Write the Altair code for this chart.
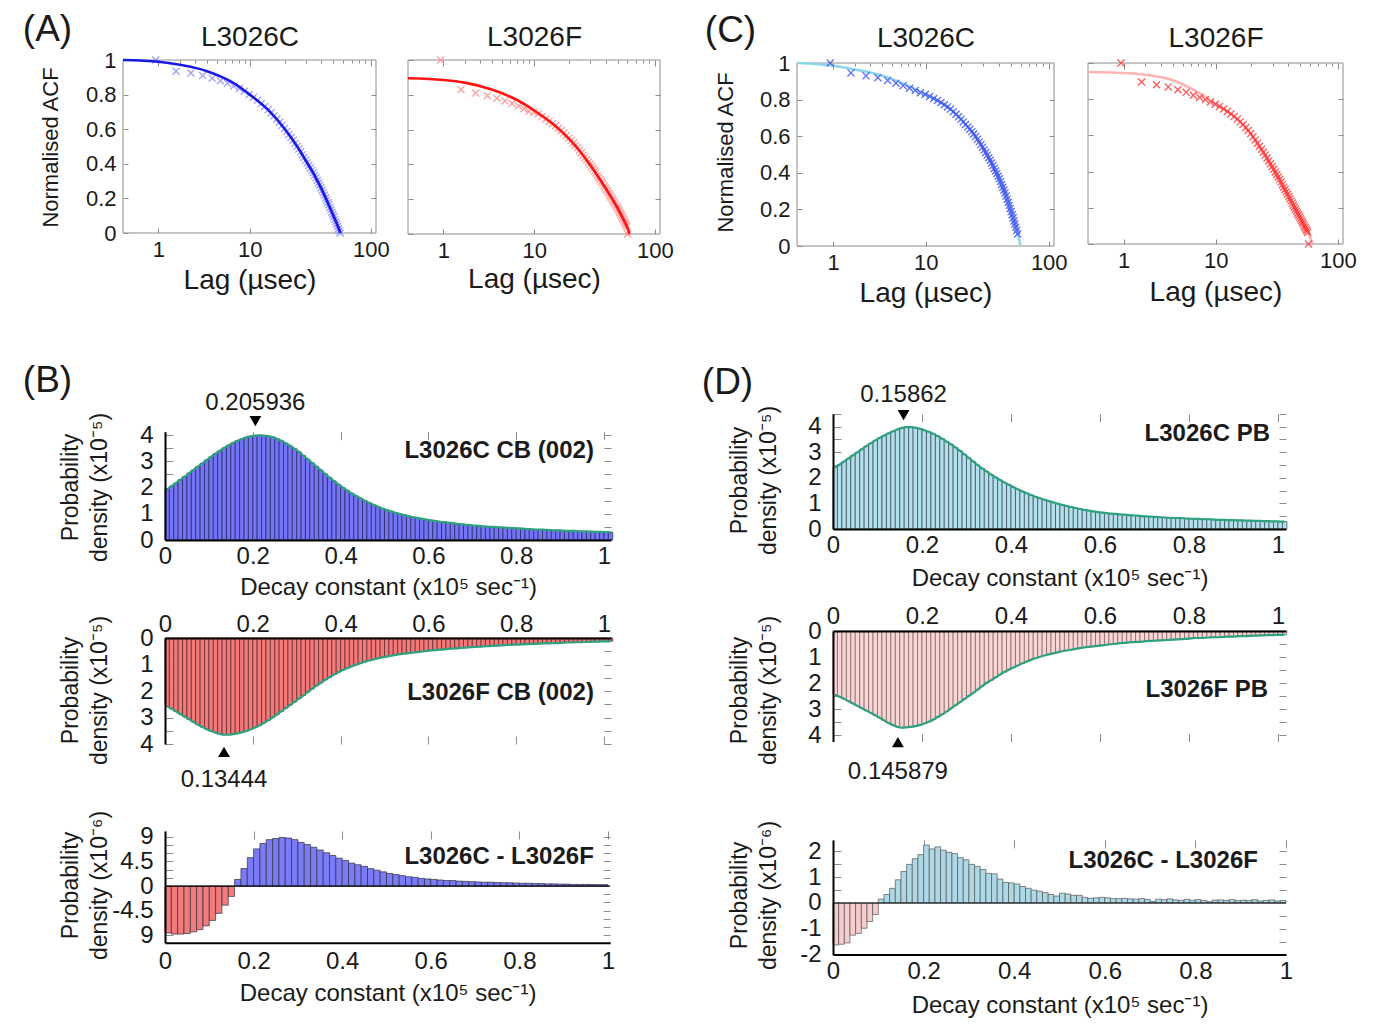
import altair as alt
import pandas as pd

FONT = "Liberation Sans"
INK = "#1a1a1a"
GRAY = "#8c8c8c"
FIT = "#2ea27f"
W, H, M = 1377, 1010, 8
XPATH = "M-1,-1L1,1M-1,1L1,-1"

# ---------------- ACF data ----------------
lags = [0.9, 1.8, 2.7, 3.6, 4.5, 5.4, 6.3, 7.2, 8.1, 9.0,
        9.9, 10.8, 11.7, 12.6, 13.5, 14.4, 15.3, 16.2, 17.1, 18.0,
        18.9, 19.8, 20.7, 21.6, 22.5, 23.4, 24.3, 25.2, 26.1, 27.0,
        27.9, 28.8, 29.7, 30.6, 31.5, 32.4, 33.3, 34.2, 35.1, 36.0,
        36.9, 37.8, 38.7, 39.6, 40.5, 41.4, 42.3, 43.2, 44.1, 45.0,
        45.9, 46.8, 47.7, 48.6, 49.5, 50.4, 51.3, 52.2, 53.1, 54.0,
        54.9, 55.8, 56.7, 57.6, 58.5, 59.4, 60.3, 61.2, 62.1]

acf_cb_C = [1.0, 0.935, 0.925, 0.91, 0.895, 0.88, 0.865, 0.85, 0.835, 0.82,
            0.80, 0.785, 0.767, 0.748, 0.73, 0.712, 0.695, 0.677, 0.659, 0.64,
            0.622, 0.604, 0.587, 0.57, 0.553, 0.536, 0.518, 0.501, 0.485, 0.469,
            0.453, 0.437, 0.42, 0.405, 0.39, 0.376, 0.362, 0.348, 0.333, 0.319,
            0.305, 0.29, 0.276, 0.261, 0.247, 0.233, 0.218, 0.204, 0.19, 0.175,
            0.162, 0.148, 0.134, 0.12, 0.107, 0.094, 0.08, 0.066, 0.052, 0.038,
            0.024, 0.012, 0.0]
fit_cb_C_lag = [0, 1, 2, 4, 7, 10, 15, 20, 25, 30, 35, 40, 45, 50, 55, 57]
fit_cb_C = [1.0, 0.99, 0.972, 0.935, 0.87, 0.80, 0.70, 0.60, 0.505, 0.415, 0.335, 0.255, 0.175, 0.10, 0.03, 0.0]

acf_cb_F = [1.0, 0.83, 0.81, 0.795, 0.78, 0.765, 0.75, 0.735, 0.72, 0.706,
            0.70, 0.69, 0.675, 0.66, 0.647, 0.634, 0.622, 0.608, 0.594, 0.58,
            0.566, 0.552, 0.537, 0.523, 0.509, 0.495, 0.481, 0.467, 0.453, 0.44,
            0.427, 0.414, 0.401, 0.388, 0.376, 0.363, 0.351, 0.338, 0.326, 0.314,
            0.302, 0.29, 0.278, 0.267, 0.256, 0.245, 0.234, 0.223, 0.213, 0.203,
            0.193, 0.183, 0.173, 0.163, 0.153, 0.143, 0.133, 0.123, 0.113, 0.103,
            0.093, 0.083, 0.073, 0.063, 0.053, 0.043, 0.0]
fit_cb_F_lag = [0, 1, 2, 4, 7, 10, 15, 20, 25, 30, 35, 40, 45, 50, 55, 60, 62.5]
fit_cb_F = [0.895, 0.885, 0.87, 0.83, 0.77, 0.71, 0.625, 0.545, 0.468, 0.393, 0.325, 0.262, 0.205, 0.148, 0.093, 0.035, 0.0]

acf_pb_C = [1.0, 0.946, 0.93, 0.92, 0.905, 0.89, 0.876, 0.862, 0.85, 0.838,
            0.828, 0.817, 0.806, 0.795, 0.784, 0.772, 0.76, 0.748, 0.734, 0.72,
            0.706, 0.692, 0.678, 0.664, 0.65, 0.638, 0.625, 0.612, 0.598, 0.583,
            0.569, 0.554, 0.54, 0.525, 0.511, 0.497, 0.482, 0.468, 0.453, 0.439,
            0.424, 0.41, 0.396, 0.381, 0.367, 0.352, 0.336, 0.321, 0.306, 0.29,
            0.273, 0.256, 0.239, 0.222, 0.205, 0.188, 0.171, 0.154, 0.137, 0.12,
            0.103, 0.085, 0.066]
fit_pb_C_lag = [0, 1, 2, 4, 7, 10, 13, 16, 20, 25, 30, 35, 40, 45, 50, 55, 58, 60]
fit_pb_C = [1.0, 0.985, 0.965, 0.93, 0.875, 0.83, 0.79, 0.752, 0.69, 0.615, 0.535, 0.455, 0.375, 0.29, 0.195, 0.1, 0.04, 0.0]

acf_pb_F = [1.0, 0.895, 0.88, 0.868, 0.852, 0.838, 0.822, 0.81, 0.798, 0.785,
            0.772, 0.76, 0.746, 0.732, 0.718, 0.704, 0.69, 0.675, 0.66, 0.643,
            0.627, 0.61, 0.592, 0.575, 0.557, 0.54, 0.523, 0.507, 0.491, 0.475,
            0.459, 0.443, 0.428, 0.413, 0.398, 0.384, 0.37, 0.356, 0.342, 0.328,
            0.314, 0.301, 0.288, 0.275, 0.262, 0.25, 0.238, 0.226, 0.214, 0.203,
            0.192, 0.181, 0.17, 0.16, 0.15, 0.14, 0.13, 0.12, 0.11, 0.1,
            0.091, 0.082, 0.073, 0.064, 0.0]
fit_pb_F_lag = [0, 1, 2, 4, 6, 8, 10, 12, 15, 19, 24, 31, 40, 51, 58, 63]
fit_pb_F = [0.95, 0.945, 0.935, 0.905, 0.86, 0.815, 0.775, 0.742, 0.695, 0.625, 0.525, 0.40, 0.263, 0.14, 0.065, 0.0]

# ---------------- decay-constant distributions ----------------
dens_cb_C = [1.93, 2.05, 2.17, 2.30, 2.42, 2.55, 2.67, 2.80, 2.92, 3.05,
             3.17, 3.29, 3.40, 3.51, 3.61, 3.70, 3.78, 3.85, 3.91, 3.95,
             3.98, 3.99, 3.98, 3.96, 3.92, 3.86, 3.78, 3.69, 3.59, 3.48,
             3.36, 3.22, 3.08, 2.94, 2.80, 2.66, 2.52, 2.38, 2.25, 2.12,
             2.00, 1.89, 1.78, 1.68, 1.59, 1.50, 1.42, 1.34, 1.27, 1.20,
             1.14, 1.09, 1.04, 0.99, 0.95, 0.91, 0.87, 0.84, 0.81, 0.78,
             0.75, 0.73, 0.70, 0.68, 0.66, 0.64, 0.62, 0.60, 0.58, 0.57,
             0.55, 0.54, 0.52, 0.51, 0.50, 0.49, 0.48, 0.47, 0.46, 0.45,
             0.44, 0.43, 0.42, 0.41, 0.40, 0.40, 0.39, 0.38, 0.37, 0.37,
             0.36, 0.35, 0.35, 0.34, 0.33, 0.33, 0.32, 0.32, 0.31, 0.31,
             0.30, 0.30]
dens_cb_F = [2.58, 2.67, 2.77, 2.87, 2.97, 3.07, 3.17, 3.27, 3.36, 3.44,
             3.51, 3.57, 3.62, 3.65, 3.65, 3.63, 3.60, 3.56, 3.51, 3.45,
             3.38, 3.30, 3.21, 3.11, 3.00, 2.89, 2.77, 2.65, 2.53, 2.41,
             2.29, 2.17, 2.04, 1.92, 1.80, 1.69, 1.58, 1.48, 1.38, 1.29,
             1.21, 1.14, 1.07, 1.01, 0.95, 0.90, 0.85, 0.81, 0.77, 0.73,
             0.70, 0.67, 0.64, 0.61, 0.59, 0.57, 0.55, 0.53, 0.51, 0.49,
             0.47, 0.46, 0.44, 0.43, 0.41, 0.40, 0.39, 0.37, 0.36, 0.35,
             0.34, 0.33, 0.32, 0.31, 0.30, 0.29, 0.28, 0.27, 0.26, 0.25,
             0.25, 0.24, 0.23, 0.22, 0.22, 0.21, 0.20, 0.20, 0.19, 0.19,
             0.18, 0.17, 0.17, 0.16, 0.16, 0.15, 0.15, 0.14, 0.14, 0.13,
             0.13, 0.12]
diff_cb = [-8.6, -8.8, -8.8, -8.7, -8.4, -8.0, -7.3, -6.3, -5.0, -3.5,
           -1.9, 1.2, 3.2, 5.2, 6.8, 7.8, 8.5, 8.7, 8.9, 8.8,
           8.5, 8.0, 7.6, 7.1, 6.6, 6.1, 5.6, 5.1, 4.7, 4.2,
           3.9, 3.6, 3.2, 2.9, 2.6, 2.3, 2.1, 1.9, 1.7, 1.6,
           1.4, 1.3, 1.2, 1.1, 1.0, 1.0, 0.9, 0.85, 0.8, 0.75,
           0.7, 0.7, 0.65, 0.6, 0.6, 0.55, 0.5, 0.5, 0.45, 0.45,
           0.4, 0.4, 0.35, 0.35, 0.3, 0.3, 0.3, 0.28, 0.26, 0.25]
dens_pb_C = [2.40, 2.52, 2.64, 2.76, 2.88, 3.00, 3.12, 3.24, 3.35, 3.46,
             3.56, 3.65, 3.74, 3.82, 3.89, 3.95, 3.98, 3.98, 3.96, 3.92,
             3.86, 3.80, 3.72, 3.63, 3.53, 3.42, 3.31, 3.19, 3.06, 2.92,
             2.78, 2.64, 2.50, 2.37, 2.25, 2.13, 2.02, 1.92, 1.82, 1.73,
             1.64, 1.55, 1.47, 1.40, 1.33, 1.26, 1.20, 1.14, 1.09, 1.04,
             0.99, 0.94, 0.90, 0.86, 0.82, 0.78, 0.75, 0.72, 0.69, 0.66,
             0.64, 0.62, 0.60, 0.59, 0.57, 0.56, 0.54, 0.53, 0.52, 0.50,
             0.49, 0.48, 0.47, 0.46, 0.45, 0.44, 0.43, 0.43, 0.42, 0.41,
             0.40, 0.40, 0.39, 0.38, 0.38, 0.37, 0.36, 0.36, 0.35, 0.35,
             0.34, 0.34, 0.33, 0.33, 0.32, 0.32, 0.31, 0.31, 0.30, 0.30,
             0.29, 0.29]
dens_pb_F = [2.45, 2.53, 2.61, 2.70, 2.79, 2.88, 2.97, 3.06, 3.15, 3.24,
             3.34, 3.44, 3.54, 3.62, 3.69, 3.72, 3.71, 3.69, 3.66, 3.62,
             3.56, 3.49, 3.41, 3.31, 3.21, 3.10, 2.98, 2.86, 2.74, 2.62,
             2.50, 2.38, 2.25, 2.12, 2.00, 1.90, 1.79, 1.68, 1.58, 1.49,
             1.41, 1.33, 1.25, 1.18, 1.11, 1.05, 0.99, 0.94, 0.90, 0.86,
             0.82, 0.78, 0.75, 0.72, 0.69, 0.66, 0.63, 0.61, 0.59, 0.57,
             0.55, 0.53, 0.51, 0.49, 0.47, 0.46, 0.44, 0.43, 0.42, 0.41,
             0.39, 0.38, 0.37, 0.36, 0.35, 0.34, 0.33, 0.32, 0.31, 0.30,
             0.28, 0.27, 0.27, 0.26, 0.25, 0.24, 0.24, 0.23, 0.22, 0.22,
             0.21, 0.20, 0.20, 0.19, 0.18, 0.18, 0.17, 0.16, 0.16, 0.15,
             0.15, 0.14]
diff_pb = [-1.63, -1.60, -1.55, -1.25, -1.18, -0.98, -0.72, -0.45, 0.15, 0.33,
           0.57, 0.90, 1.22, 1.50, 1.72, 1.88, 2.25, 2.10, 2.18, 2.05,
           1.97, 1.92, 1.76, 1.68, 1.50, 1.42, 1.30, 1.15, 1.13, 0.93,
           0.80, 0.78, 0.74, 0.64, 0.57, 0.50, 0.46, 0.40, 0.33, 0.27,
           0.38, 0.35, 0.30, 0.30, 0.22, 0.18, 0.20, 0.22, 0.20, 0.17,
           0.17, 0.18, 0.16, 0.15, 0.17, 0.14, 0.06, 0.15, 0.13, 0.16,
           0.12, 0.10, 0.14, 0.11, 0.13, 0.10, 0.05, 0.11, 0.12, 0.10,
           0.13, 0.09, 0.11, 0.10, 0.13, 0.08, 0.10, 0.12, 0.08, 0.10]

peak_cb_C, peak_cb_F = 0.205936, 0.13444
peak_pb_C, peak_pb_F = 0.15862, 0.145879


# ---------------- helpers ----------------
def S(kind, dom, rng, **kw):
    return alt.Scale(type=kind, domain=dom, range=[r - M for r in rng], nice=False, zero=False, **kw)


def AX(orient, pos, **kw):
    p = pos - M
    off = {'left': -p, 'top': -p, 'right': p - W, 'bottom': p - H}[orient]
    base = dict(orient=orient, offset=off, domain=False, ticks=False, labels=False, grid=False,
                title=None, labelFlush=False, labelOverlap=False, labelFont=FONT, labelColor=INK,
                titleFont=FONT, titleColor=INK, titleFontWeight='normal', titleLimit=900,
                labelLimit=400, tickColor=GRAY, tickWidth=1, domainColor='black', tickSize=0)
    base.update(kw)
    return alt.Axis(**base)


def acf_panel(p):
    xs = S('symlog', [0, 110], [p['x0'], p['x1']], constant=1.1)
    ys = S('linear', [0, 1], [p['yb'], p['yt']])
    cx = (p['x0'] + p['x1']) / 2
    bottom = AX('bottom', p['yb'] - 5, values=[1, 10, 100], ticks=True, tickSize=5, labels=True,
                labelFontSize=22, labelPadding=6, labelExpr="format(datum.value, 'd')",
                title='Lag (µsec)', titleFontSize=28,
                titleX=cx - M, titleY=p['xt_y'] - (p['yb'] - 5), titleAlign='center',
                titleBaseline='middle')
    lkw = dict(values=[0, 0.2, 0.4, 0.6, 0.8, 1], ticks=True, tickSize=5)
    if p['ylab']:
        lkw.update(labels=True, labelFontSize=22, labelPadding=7, format='~g', title='Normalised ACF',
                   titleFontSize=22, titleAngle=270, titleX=p['ytx'] - (p['x0'] + 5),
                   titleY=p['yty'] - M, titleAlign='center', titleBaseline='middle')
    left = AX('left', p['x0'] + 5, **lkw)
    top_major = AX('top', p['yt'] + 6, values=[1, 10, 100], ticks=True, tickSize=6, title=p['name'],
                   titleFontSize=28, titleX=cx - M, titleY=p['ttl_y'] - (p['yt'] + 6),
                   titleAlign='center', titleBaseline='middle')
    top_minor = AX('top', p['yt'] + 3, values=[2, 3, 4, 5, 6, 7, 8, 9, 20, 30, 40, 50, 60, 70, 80, 90],
                   ticks=True, tickSize=3)
    right = AX('right', p['x1'] - 5, values=[0.2, 0.4, 0.6, 0.8], ticks=True, tickSize=5)
    letter = None
    if p.get('letter'):
        t, lx, ly = p['letter']
        letter = AX('left', p['x0'], title=t, titleFontSize=37, titleAngle=0, titleX=lx - p['x0'],
                    titleY=ly - M, titleAlign='center', titleBaseline='middle')

    frame = alt.Chart(pd.DataFrame({'a': [0.0], 'b': [110.0], 'c': [0.0], 'd': [1.0]})).mark_rect(
        fill='white', fillOpacity=0, stroke=GRAY, strokeWidth=1).encode(
        x=alt.X('a:Q', scale=xs, axis=bottom), x2='b:Q',
        y=alt.Y('c:Q', scale=ys, axis=left), y2='d:Q')
    line = alt.Chart(pd.DataFrame({'lag': p['fl'], 'v': p['fv']})).mark_line(
        color=p['line'], strokeWidth=2.6, interpolate='monotone').encode(
        x=alt.X('lag:Q', scale=xs, axis=top_major),
        y=alt.Y('v:Q', scale=ys, axis=right))
    mk = alt.Chart(pd.DataFrame({'lag': lags[:len(p['mv'])], 'v': p['mv']})).mark_point(
        shape=XPATH, filled=False, size=50, strokeWidth=1.3, color=p['mark'], opacity=0.85).encode(
        x=alt.X('lag:Q', scale=xs, axis=top_minor),
        y=alt.Y('v:Q', scale=ys, axis=letter))
    return [frame, mk, line] if p['line_top'] else [frame, line, mk]


def hist_panel(p):
    xs = S('linear', p['xdom'], p['xr'])
    ys = S('linear', p['ydom'], p['yr'])
    w = p['bin']
    vals = p['vals']
    x0 = [round(i * w, 6) for i in range(len(vals))]
    x1 = [round((i + 1) * w, 6) for i in range(len(vals))]
    df = pd.DataFrame({'x0': x0, 'x1': x1, 'v': vals, 'base': [0.0] * len(vals)})
    xl, xr = p['xr']
    xkw = dict(values=[0, 0.2, 0.4, 0.6, 0.8, 1], domain=True, domainWidth=2, domainColor='black',
               labels=True, labelFontSize=24, labelPadding=p['lpad'], format='~g', zindex=1)
    if p.get('xt_y'):
        xkw.update(title='Decay constant (x10⁵ sec⁻¹)', titleFontSize=24, titleX=(xl + xr) / 2 - M,
                   titleY=p['xt_y'] - p['axis_y'], titleAlign='center', titleBaseline='middle')
    xmain = AX(p['xorient'], p['axis_y'], **xkw)
    # the first title line is anchored at ytx; the second follows one line height to the right
    ykw = dict(values=p['ylabels'], domain=True, domainWidth=2, domainColor='black', labels=True,
               labelFontSize=24, labelPadding=12, zindex=1, title=['Probability', p['ytitle2']],
               titleFontSize=23, titleLineHeight=29, titleAngle=270, titleX=p['ytx'] - xl,
               titleY=p['yty'] - M, titleAlign='center', titleBaseline='middle')
    if p.get('lexpr'):
        ykw['labelExpr'] = p['lexpr']
    else:
        ykw['format'] = '~g'
    ymain = AX('left', xl, **ykw)
    eo = 'top' if p['xorient'] == 'bottom' else 'bottom'
    epos = p['edge_y'] + 8 if eo == 'top' else p['edge_y'] - 8
    xedge = AX(eo, epos, values=[0.2, 0.4, 0.6, 0.8, 1.0], ticks=True, tickSize=8)
    yright = AX('right', xr - 7, values=p['yticks'], ticks=True, tickSize=7)
    yin = AX('left', xl + 8, values=p['yticks'], ticks=True, tickSize=8)
    letter = None
    if p.get('letter'):
        t, lx, ly = p['letter']
        letter = AX('left', xl, title=t, titleFontSize=37, titleAngle=0, titleX=lx - xl,
                    titleY=ly - M, titleAlign='center', titleBaseline='middle')

    if p.get('neg'):
        fill = alt.condition(alt.datum.v > 0, alt.value(p['fill']), alt.value(p['neg']))
    else:
        fill = alt.value(p['fill'])
    leaves = [alt.Chart(df).mark_rect(stroke=p['stroke'], strokeWidth=0.7).encode(
        x=alt.X('x0:Q', scale=xs, axis=xmain), x2='x1:Q',
        y=alt.Y('v:Q', scale=ys, axis=ymain), y2='base:Q', fill=fill)]
    ndf = pd.DataFrame({'x': [p['name'][1]], 'y': [p['name'][2]], 't': [p['name'][0]]})
    if p.get('peak') is not None:
        ldf = pd.DataFrame({'xc': [(a + b) / 2 for a, b in zip(x0, x1)], 'v': vals})
        leaves.append(alt.Chart(ldf).mark_line(color=FIT, strokeWidth=2.2, interpolate='monotone').encode(
            x=alt.X('xc:Q', scale=xs, axis=xedge), y=alt.Y('v:Q', scale=ys, axis=yright)))
        pk = p['peak']
        leaves.append(alt.Chart(pd.DataFrame({'x': [pk], 'y': [p['tri_y']]})).mark_point(
            shape=p['tri'], filled=True, color='black', size=140, opacity=1).encode(
            x=alt.X('x:Q', scale=xs, axis=None), y=alt.Y('y:Q', scale=ys, axis=yin)))
        leaves.append(alt.Chart(pd.DataFrame({'x': [pk], 'y': [p['txt_y']], 't': [p['peak_label']]})).mark_text(
            font=FONT, fontSize=24, color=INK, align='center', baseline='middle').encode(
            x=alt.X('x:Q', scale=xs, axis=None), y=alt.Y('y:Q', scale=ys, axis=letter), text='t:N'))
        leaves.append(alt.Chart(ndf).mark_text(
            font=FONT, fontSize=24, fontWeight='bold', color=INK, align='right', baseline='middle').encode(
            x=alt.X('x:Q', scale=xs, axis=None), y=alt.Y('y:Q', scale=ys, axis=None), text='t:N'))
    else:
        zdf = pd.DataFrame({'a': [p['xdom'][0]], 'b': [p['xdom'][1]], 'z': [0.0]})
        leaves.append(alt.Chart(zdf).mark_rule(color='black', strokeWidth=1.2).encode(
            x=alt.X('a:Q', scale=xs, axis=xedge), x2='b:Q', y=alt.Y('z:Q', scale=ys, axis=yright)))
        leaves.append(alt.Chart(ndf).mark_text(
            font=FONT, fontSize=24, fontWeight='bold', color=INK, align='right', baseline='middle').encode(
            x=alt.X('x:Q', scale=xs, axis=None), y=alt.Y('y:Q', scale=ys, axis=yin), text='t:N'))
    return leaves


HALF = [0.5, 1.0, 1.5, 2.0, 2.5, 3.0, 3.5, 4.0]
NEG_LBL = "datum.value < -8 ? '9' : (datum.value < 0 ? '-' + format(-datum.value, '~g') : format(datum.value, '~g'))"
NEG_LBL2 = "datum.value < 0 ? '-' + format(-datum.value, '~g') : format(datum.value, '~g')"

acf_panels = [
    dict(name='L3026C', x0=123, x1=376, yt=60, yb=233, ttl_y=37, xt_y=280, ylab=True, ytx=50, yty=147,
         letter=('(A)', 47, 29), line='#1a1ae6', mark='#8f8fff', fl=fit_cb_C_lag, fv=fit_cb_C,
         mv=acf_cb_C, line_top=True),
    dict(name='L3026F', x0=408, x1=660, yt=60, yb=234, ttl_y=37, xt_y=279, ylab=False,
         line='#ff1414', mark='#ff8c8c', fl=fit_cb_F_lag, fv=fit_cb_F, mv=acf_cb_F, line_top=True),
    dict(name='L3026C', x0=797, x1=1054, yt=63, yb=246, ttl_y=38, xt_y=293, ylab=True, ytx=725, yty=152,
         letter=('(C)', 730, 30), line='#8fd6ee', mark='#4155f2', fl=fit_pb_C_lag, fv=fit_pb_C,
         mv=acf_pb_C, line_top=False),
    dict(name='L3026F', x0=1088, x1=1343, yt=63, yb=244, ttl_y=38, xt_y=292, ylab=False,
         line='#ffb3b3', mark='#ff3c3c', fl=fit_pb_F_lag, fv=fit_pb_F, mv=acf_pb_F, line_top=False),
]

hist_panels = [
    dict(xdom=[0, 1.016], xr=[165, 611], ydom=[0, 4.13], yr=[540, 431.6], bin=0.01, vals=dens_cb_C,
         xorient='bottom', axis_y=540, edge_y=431.6, lpad=4, xt_y=587, ylabels=[0, 1, 2, 3, 4],
         ytitle2='density (x10⁻⁵)', ytx=70.5, yty=487, yticks=HALF, fill='#7474f6', stroke='#23235a',
         peak=peak_cb_C, tri='triangle-down', tri_y=4.53, txt_y=5.22, peak_label='0.205936',
         name=('L3026C CB (002)', 0.977, 3.39), letter=('(B)', 47, 380)),
    dict(xdom=[0, 1.016], xr=[165, 611], ydom=[0, 4.0], yr=[638, 744], bin=0.01, vals=dens_cb_F,
         xorient='top', axis_y=638, edge_y=744, lpad=2, ylabels=[0, 1, 2, 3, 4],
         ytitle2='density (x10⁻⁵)', ytx=70.5, yty=690, yticks=HALF, fill='#f27a7a', stroke='#5a2323',
         peak=peak_cb_F, tri='triangle-up', tri_y=4.30, txt_y=5.36, peak_label='0.13444',
         name=('L3026F CB (002)', 0.977, 2.08)),
    dict(xdom=[0, 1.005], xr=[165, 610.2], ydom=[-10.4, 10.1], yr=[942.8, 830.9], bin=1 / 70, vals=diff_cb,
         xorient='bottom', axis_y=942.8, edge_y=830.9, lpad=7, xt_y=993, ylabels=[-9, -4.5, 0, 4.5, 9],
         lexpr=NEG_LBL, ytitle2='density (x10⁻⁶)', ytx=70.5, yty=885,
         yticks=[-9, -7.5, -6, -4.5, -3, -1.5, 1.5, 3, 4.5, 6, 7.5, 9], fill='#7b7bf7', neg='#f27b7b',
         stroke='#2e2e3e', peak=None, name=('L3026C - L3026F', 0.968, 5.31)),
    dict(xdom=[0, 1.018], xr=[833, 1286], ydom=[0, 4.5], yr=[529, 413.8], bin=0.01, vals=dens_pb_C,
         xorient='bottom', axis_y=529, edge_y=413.8, lpad=4, xt_y=578, ylabels=[0, 1, 2, 3, 4],
         ytitle2='density (x10⁻⁵)', ytx=739.5, yty=480, yticks=HALF + [4.5], fill='#b4e0ec', stroke='#2e4650',
         peak=peak_pb_C, tri='triangle-down', tri_y=4.45, txt_y=5.23, peak_label='0.15862',
         name=('L3026C PB', 0.982, 3.71), letter=('(D)', 727, 382)),
    dict(xdom=[0, 1.018], xr=[833, 1286], ydom=[0, 4.25], yr=[631, 741.5], bin=0.01, vals=dens_pb_F,
         xorient='top', axis_y=631, edge_y=741.5, lpad=3, ylabels=[0, 1, 2, 3, 4],
         ytitle2='density (x10⁻⁵)', ytx=739.5, yty=690, yticks=HALF, fill='#f9d6d6', stroke='#7d5a5a',
         peak=peak_pb_F, tri='triangle-up', tri_y=4.27, txt_y=5.42, peak_label='0.145879',
         name=('L3026F PB', 0.978, 2.27)),
    dict(xdom=[0, 1.0], xr=[833, 1286], ydom=[-2.0, 2.45], yr=[954.5, 839.9], bin=0.0125, vals=diff_pb,
         xorient='bottom', axis_y=954.5, edge_y=839.9, lpad=5, xt_y=1005, ylabels=[-2, -1, 0, 1, 2],
         lexpr=NEG_LBL2, ytitle2='density (x10⁻⁶)', ytx=739.5, yty=895,
         yticks=[-2, -1.5, -1, -0.5, 0.5, 1, 1.5, 2], fill='#add8e6', neg='#f6cccc', stroke='#555555',
         peak=None, name=('L3026C - L3026F', 0.938, 1.63)),
]

leaves = []
for p in acf_panels:
    leaves += acf_panel(p)
for p in hist_panels:
    leaves += hist_panel(p)

chart = alt.layer(*leaves).resolve_scale(x='independent', y='independent').properties(
    width=W, height=H, autosize=alt.AutoSizeParams(type='none'), padding=0
).configure(font=FONT).configure_view(strokeOpacity=0)

chart.save("out.html", embed_options={"renderer": "svg", "actions": False})
